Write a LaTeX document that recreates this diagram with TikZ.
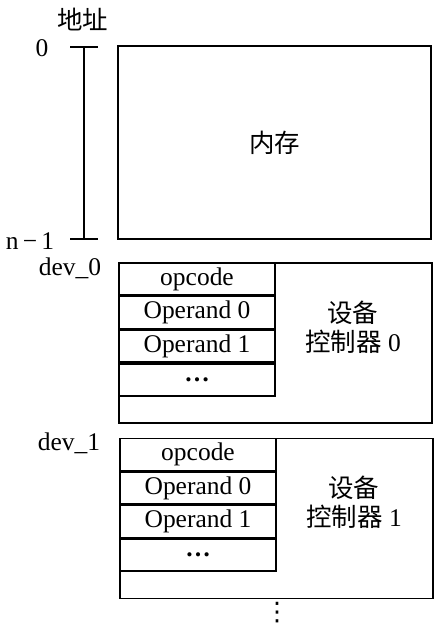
\documentclass[tikz,border=0pt]{standalone}
\usepackage{fontspec}
\setmainfont{Liberation Serif}
\newfontfamily\cjk{Noto Sans CJK SC}
\newfontfamily\sym{DejaVu Sans}
\usetikzlibrary{positioning}

\begin{document}
\begin{tikzpicture}[x=0.02cm, y=-0.02cm, line width=0.9pt, node distance=0cm,
    font=\fontsize{14.5}{16.5}\selectfont,
    cell/.style={draw, minimum width=3.12cm, minimum height=0.64cm, inner sep=0pt, anchor=north west},
    devbox/.style={draw, minimum width=6.26cm, minimum height=3.2cm, inner sep=0pt}]
    \useasboundingbox (0,0) rectangle (446,630);
    % Adresse
    \node (addr) at (83,20) {\cjk 地址};
    \node (a0) at (42,48) {0};
    \node (an) at (30,241) {n\,−\,1};
    \coordinate (s0l) at (70,47);
    \coordinate (s0r) at (98,47);
    \coordinate (snl) at (70,239);
    \coordinate (snr) at (98,239);
    \coordinate (stop) at (84,47);
    \coordinate (sbot) at (84,239);
    \draw (s0l) -- (s0r);
    \draw (snl) -- (snr);
    \draw (stop) -- (sbot);
    % Memori
    \node[draw, minimum width=6.26cm, minimum height=3.86cm] (mem) at (274.5,142.5) {\cjk 内存};
    % Perangkat 0
    \node (d0) at (70,268) {dev\_0};
    \node[devbox] (dev0) at (275.5,343) {};
    \node[cell] (op0) at (dev0.north west) {opcode};
    \node[cell, below=of op0] (arga0) {Operand 0};
    \node[cell, below=of arga0] (argb0) {Operand 1};
    \node[cell, below=of argb0] (etc0) {\textbf{\dots}};
    \node[align=center] (ctl0) at (353,327.5) {{\cjk 设备}\\{\cjk 控制器} 0};
    % Perangkat 1
    \node (d1) at (69,443) {dev\_1};
    \node[devbox] (dev1) at (276.5,518.5) {};
    \node[cell] (op1) at (dev1.north west) {opcode};
    \node[cell, below=of op1] (arga1) {Operand 0};
    \node[cell, below=of arga1] (argb1) {Operand 1};
    \node[cell, below=of argb1] (etc1) {\textbf{\dots}};
    \node[align=center] (ctl1) at (354,502.5) {{\cjk 设备}\\{\cjk 控制器} 1};
    % lanjut
    \node (more) at (277,613) {\sym ⋮};
\end{tikzpicture}
\end{document}
